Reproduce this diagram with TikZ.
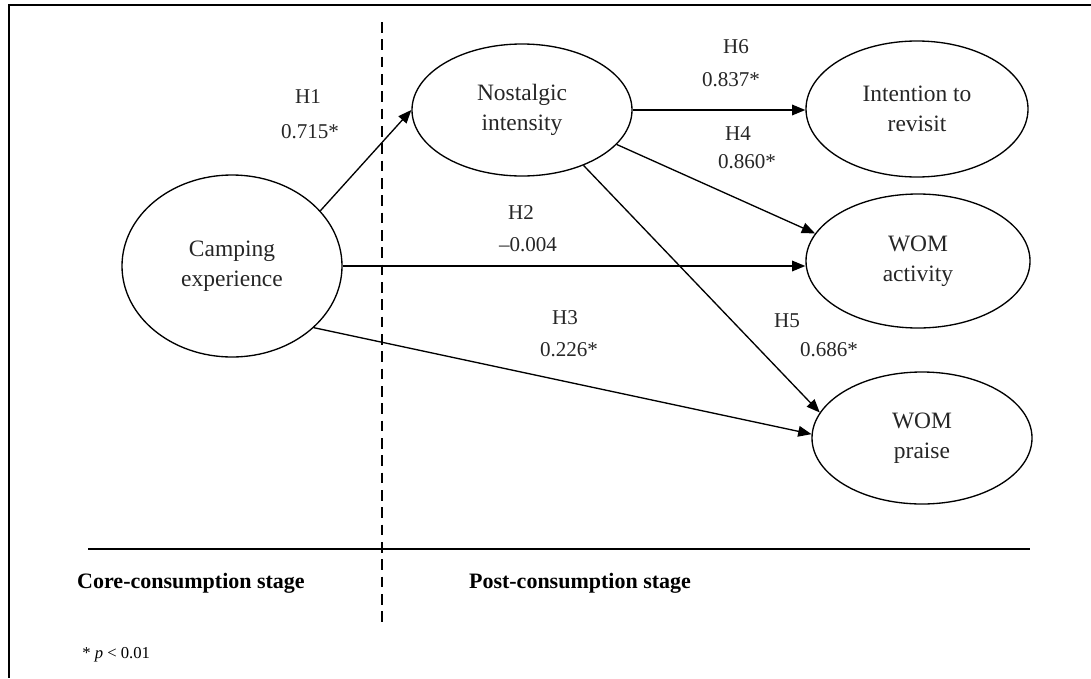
\documentclass[tikz,border=0pt]{standalone}
\usepackage{fontspec}
\setmainfont{Liberation Serif}
\usetikzlibrary{shapes.geometric,arrows.meta}
\begin{document}
\begin{tikzpicture}[x=0.75pt,y=-0.75pt,
  lv/.style={draw, ellipse, line width=1pt, inner sep=0pt, align=center, text=black!85,
    font=\fontsize{17.6}{22.5}\selectfont},
  arr/.style={line width=1pt, -{Triangle[length=10pt,width=8pt]}},
  lab/.style={font=\fontsize{15.8}{18}\selectfont, inner sep=0pt, text=black!85},
  stage/.style={font=\bfseries\fontsize{16.5}{20}\selectfont, inner sep=0pt},
]
\useasboundingbox (0,0) rectangle (1091,678);
% frame
\draw[line width=2.2pt] (1091,5) -- (9,5) -- (9,678);
% separators
\draw[line width=1pt, dash pattern=on 8pt off 5pt] (382,22) -- (382,622);
\draw[line width=1pt] (88,549) -- (1030,549);
% latent variables
\node[lv, minimum width=165pt, minimum height=136.5pt] (camp) at (232,266) {Camping\\experience};
\node[lv, minimum width=165pt, minimum height=99pt] (nost) at (522,110) {Nostalgic\\intensity};
\node[lv, minimum width=166.5pt, minimum height=102pt] (intent) at (917,109) {Intention to\\revisit};
\node[lv, minimum width=168pt, minimum height=100.5pt] (act) at (918,261) {WOM\\activity};
\node[lv, minimum width=165pt, minimum height=99pt] (praise) at (922,438) {WOM\\praise};
% paths
\draw[arr] (camp.32.5) -- (nost.west);
\draw[arr] (nost.east) -- (nost.east -| intent.west);
\draw[arr] (nost.-20) -- (act.165);
\draw[arr] (nost.-42) -- (praise.166);
\draw[arr] (camp.east) -- (camp.east -| act.west);
\draw[arr] (camp.-37) -- (praise.178);
% labels
\node[lab] (h1) at (308,97) {H1};
\node[lab] (b1) at (310,132) {0.715*};
\node[lab] (h6) at (736,47) {H6};
\node[lab] (b6) at (731,80) {0.837*};
\node[lab] (h4) at (738,134) {H4};
\node[lab] (b4) at (747,162) {0.860*};
\node[lab] (h2) at (521,213) {H2};
\node[lab] (b2) at (528,245) {\char"2013 0.004};
\node[lab] (h3) at (565,318) {H3};
\node[lab] (b3) at (569,350) {0.226*};
\node[lab] (h5) at (787,321) {H5};
\node[lab] (b5) at (829,350) {0.686*};
% stages
\node[stage] (core) at (191,583) {Core-consumption stage};
\node[stage] (post) at (580,583) {Post-consumption stage};
% note
\node[font=\fontsize{12.5}{15}\selectfont, inner sep=0pt, anchor=west] (note) at (82,655) {* \textit{p} < 0.01};
\end{tikzpicture}
\end{document}
